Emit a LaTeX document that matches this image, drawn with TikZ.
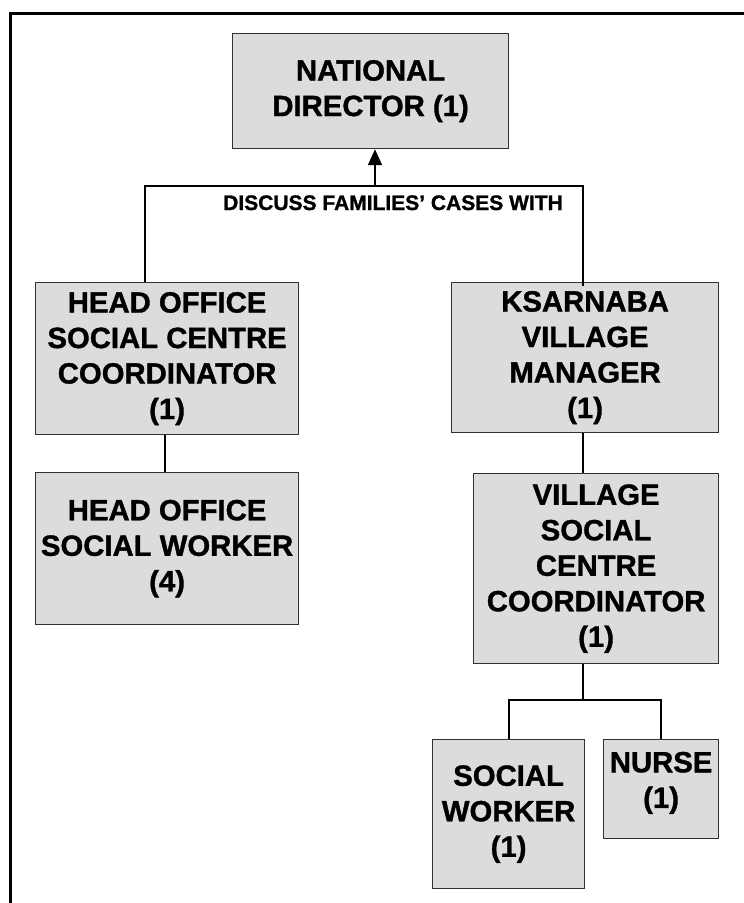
\documentclass[tikz,border=0pt]{standalone}
\usepackage{fontspec}
\setmainfont{Liberation Sans}[BoldFeatures={FakeBold=1.2}]
\usetikzlibrary{arrows.meta}
\definecolor{boxgray}{RGB}{220,220,220}
\definecolor{boxline}{RGB}{50,50,50}
\begin{document}
\begin{tikzpicture}[x=1pt,y=-1pt,
  role/.style={draw=boxline, line width=1.2pt, fill=boxgray, anchor=north west,
    inner sep=0pt, align=center, font=\fontsize{29.3}{35.5}\selectfont\bfseries},
  link/.style={line width=1.8pt, black},
  note/.style={font=\fontsize{21}{24}\selectfont\bfseries, anchor=base, inner sep=0pt}]
\useasboundingbox (0,0) rectangle (744,903);
% outer frame, running past the page edge on the right and bottom
\begin{scope}
  \clip (0,0) rectangle (744,903);
  \draw[line width=3pt] (10,13) rectangle (780,940);
\end{scope}

% boxes
\node[role, minimum width=276pt, minimum height=115pt] (nd) at (232,33) {NATIONAL\\DIRECTOR (1)};
\node[role, minimum width=263pt, minimum height=152pt] (hoc) at (35,282) {HEAD OFFICE\\SOCIAL CENTRE\\COORDINATOR\\(1)};
\node[role, minimum width=263pt, minimum height=152pt] (how) at (35,472) {HEAD OFFICE\\SOCIAL WORKER\\(4)};
\node[role, minimum width=267pt, minimum height=150pt] (ksm) at (451,282) {KSARNABA\\VILLAGE\\MANAGER\\(1)};
\node[role, minimum width=245pt, minimum height=190pt] (vsc) at (473,473) {VILLAGE\\SOCIAL\\CENTRE\\COORDINATOR\\(1)};
\node[role, minimum width=152pt, minimum height=149pt] (sw) at (432,739) {SOCIAL\\WORKER\\(1)};
\node[role, minimum width=115pt, minimum height=99pt] (nurse) at (603,739) {NURSE\\(1)\\[-17pt]\mbox{}};

% reporting lines
\coordinate (join) at (375,186);
\coordinate (lt) at (145,186);
\coordinate (rt) at (583,186);
\draw[link, -{Triangle[length=16pt,width=14pt]}] (join) -- (join |- nd.south);
\draw[link] (lt |- hoc.north) -- (lt) -- (rt) -- ([yshift=-4pt]rt |- ksm.north);
\node[note] (lbl) at (393,210) {DISCUSS FAMILIES’ CASES WITH};

\draw[link] ([xshift=-2.5pt]hoc.south) -- ([xshift=-2.5pt]how.north);
\coordinate (mid) at (583,440);
\draw[link] (mid |- ksm.south) -- (mid |- vsc.north);
\coordinate (fork) at (583,700);
\draw[link] (fork |- vsc.south) -- (fork);
\draw[link] (sw.north) |- (fork) -| (nurse.north);
\end{tikzpicture}
\end{document}
